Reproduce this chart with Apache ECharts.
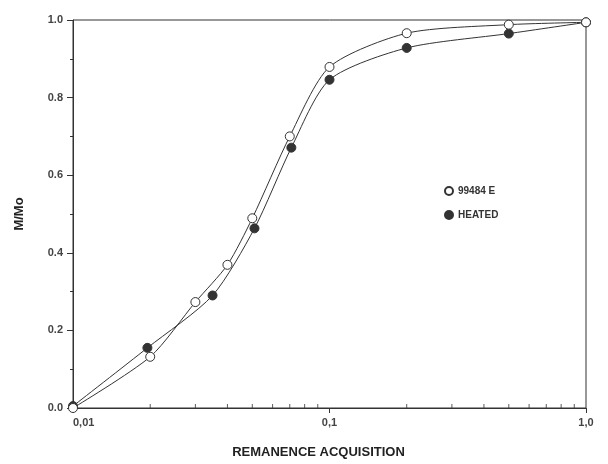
<!DOCTYPE html>
<html>
<head>
<meta charset="utf-8">
<script src="https://cdn.jsdelivr.net/npm/echarts@6/dist/echarts.min.js"></script>
<style>
  html, body { margin: 0; padding: 0; background: #fff; }
  #chart { width: 608px; height: 464px; }
</style>
</head>
<body>
<div id="chart"></div>
<script>
// values
var seriesNames = ['99484 E', 'HEATED'];
var openX = [0.01, 0.02, 0.03, 0.04, 0.05, 0.07, 0.1, 0.2, 0.5, 1.0];
var openY = [0.0, 0.132, 0.273, 0.369, 0.489, 0.70, 0.879, 0.966, 0.988, 0.994];
var heatedX = [0.01, 0.0195, 0.035, 0.051, 0.071, 0.1, 0.2, 0.5, 1.0];
var heatedY = [0.005, 0.155, 0.29, 0.463, 0.671, 0.846, 0.928, 0.965, 0.994];
var xTickLabels = ['0,01', '0,1', '1,0'];
var xMinorTicks = [0.02, 0.03, 0.04, 0.05, 0.06, 0.07, 0.08, 0.09, 0.2, 0.3, 0.4, 0.5, 0.6, 0.7, 0.8, 0.9];

var ink = '#333';
var font = '"Liberation Sans", Arial, sans-serif';

function pairs(xs, ys) {
  return xs.map(function (x, i) { return [x, ys[i]]; });
}

var chart = echarts.init(document.getElementById('chart'));

var option = {
  animation: false,
  backgroundColor: '#fff',
  grid: {
    left: 73,
    right: 22,
    top: 20,
    bottom: 56,
    show: true,
    borderColor: ink,
    borderWidth: 1
  },
  legend: {
    data: [
      { name: seriesNames[0], icon: 'circle' },
      { name: seriesNames[1], icon: 'circle' }
    ],
    orient: 'vertical',
    left: 439,
    top: 181,
    itemWidth: 8,
    itemHeight: 8,
    itemGap: 14,
    textStyle: { fontFamily: font, fontWeight: 'bold', fontSize: 10, color: ink }
  },
  xAxis: {
    type: 'log',
    logBase: 10,
    min: 0.01,
    max: 1,
    name: 'REMANENCE ACQUISITION',
    nameLocation: 'middle',
    nameGap: 38,
    nameTextStyle: {
      fontFamily: font, fontWeight: 'bold', fontSize: 13, color: '#222',
      padding: [0, 22, 0, 0]
    },
    axisLine: { lineStyle: { color: ink, width: 1 } },
    axisTick: { length: 5, lineStyle: { color: ink } },
    axisLabel: {
      fontFamily: font, fontWeight: 'bold', fontSize: 11, color: '#444',
      margin: 9,
      alignMinLabel: 'left',
      formatter: function (v) {
        return xTickLabels[Math.round(Math.log10(v)) + 2];
      }
    },
    splitLine: { show: false }
  },
  yAxis: {
    type: 'value',
    min: 0,
    max: 1,
    interval: 0.2,
    name: 'M/Mo',
    nameLocation: 'middle',
    nameGap: 47,
    nameTextStyle: { fontFamily: font, fontWeight: 'bold', fontSize: 13, color: '#222' },
    axisLine: { show: true, lineStyle: { color: ink, width: 1 } },
    axisTick: { length: 6, lineStyle: { color: ink } },
    minorTick: { show: true, splitNumber: 2, length: 3, lineStyle: { color: ink } },
    axisLabel: {
      fontFamily: font, fontWeight: 'bold', fontSize: 11, color: '#444',
      margin: 10,
      formatter: function (v) { return v.toFixed(1); }
    },
    splitLine: { show: false }
  },
  series: [
    {
      name: seriesNames[0],
      type: 'line',
      smooth: 0.25,
      symbol: 'circle',
      symbolSize: 9,
      showAllSymbol: true,
      z: 3,
      lineStyle: { color: ink, width: 1 },
      itemStyle: { color: '#fff', borderColor: ink, borderWidth: 1 },
      data: pairs(openX, openY)
    },
    {
      name: seriesNames[1],
      type: 'line',
      smooth: 0.25,
      symbol: 'circle',
      symbolSize: 9,
      showAllSymbol: true,
      z: 2,
      lineStyle: { color: ink, width: 1 },
      itemStyle: { color: ink, borderColor: ink, borderWidth: 1 },
      data: pairs(heatedX, heatedY)
    },
    {
      // minor ticks of the log axis, drawn inside
      name: 'ticks',
      type: 'scatter',
      silent: true,
      symbol: 'rect',
      symbolSize: [1, 4],
      symbolOffset: [0, -2],
      itemStyle: { color: ink },
      z: 1,
      data: xMinorTicks.map(function (x) { return [x, 0]; })
    }
  ]
};

chart.setOption(option);
</script>
</body>
</html>
